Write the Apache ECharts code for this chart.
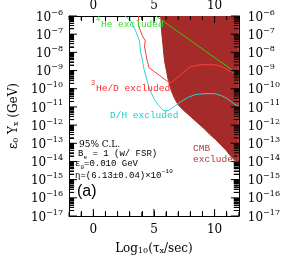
<!DOCTYPE html>
<html><head><meta charset="utf-8">
<script src="https://cdn.jsdelivr.net/npm/echarts@6/dist/echarts.min.js"></script>
<style>html,body{margin:0;padding:0;background:#fff}#c{width:283px;height:278px}</style>
</head><body><div id="c"></div>
<script>
// x: log10(tau/sec), y: log10(eps0*Yx / GeV)
const cmbLogTau = [5.56,5.63,5.79,5.87,6.03,6.19,6.43,6.67,6.98,7.46,8.02,8.57,9.13,9.60,10.08,10.56,10.95,11.27,11.59,12.0];
const cmbLogY   = [-6,-6.82,-7.92,-8.46,-9.01,-9.56,-10.11,-10.49,-10.87,-11.2,-11.53,-11.86,-12.19,-12.51,-12.79,-13.12,-13.39,-13.66,-13.88,-14.05];
const he4LogTau = [5.16,12.0];
const he4LogY   = [-6,-9.23];
const he3LogTau = [3.73,3.73,4.05,4.29,4.21,4.29,4.44,4.60,5.48,6.03,6.19,6.43,6.83,7.38,8.02,8.81,10.0,10.63,11.19,12.0];
const he3LogY   = [-6,-6.55,-7.09,-7.37,-7.64,-7.92,-8.46,-8.85,-9.28,-9.56,-9.67,-9.67,-9.45,-9.12,-8.79,-8.68,-8.68,-8.79,-9.01,-9.28];
const dhLogTau  = [2.62,3.10,3.49,3.81,3.89,4.05,4.21,4.44,4.68,5.08,5.40,5.79,6.19,6.67,7.22,7.78,8.41,9.21,10.0,10.56,11.03,11.59,12.0];
const dhLogY    = [-6,-6.27,-6.82,-7.37,-7.92,-8.46,-9.01,-9.56,-10.1,-10.65,-10.93,-11.2,-11.2,-10.98,-10.71,-10.49,-10.32,-10.27,-10.27,-10.38,-10.54,-10.82,-10.98];
const xTickLabels = [0,5,10];
const xIntTicks = [-2,-1,1,2,3,4,6,7,8,9,11,12];
const yDecades = [-17,-16,-15,-14,-13,-12,-11,-10,-9,-8,-7,-6];

const zip = (a,b)=>a.map((v,i)=>[v,b[i]]);
const minorY = [];
for (let n=-17;n<-6;n++) for (let k=2;k<=9;k++) minorY.push(n+Math.log10(k));
const allY = yDecades.concat(minorY);

const SERIF = '"DejaVu Serif", serif';
const MONO = '"Liberation Mono", monospace';
const tickRich = {
  b:{fontFamily:SERIF,fontSize:12,lineHeight:15,verticalAlign:'bottom',color:'#000'},
  s:{fontFamily:SERIF,fontSize:8,lineHeight:9,verticalAlign:'top',color:'#000'}
};
const yLab = v => '{b|10}{s|\u2212' + Math.abs(v) + '}';

function txt(x,y,text,color,size,family,rich){
  const st = {text:text,fill:color,fontSize:size,fontFamily:family};
  if (rich) st.rich = rich;
  return {type:'text',left:x,top:y,z:100,style:st};
}
const subR = {m:{fontSize:9,fontFamily:MONO,verticalAlign:'top',lineHeight:11},d:{fontSize:6,fontFamily:MONO,verticalAlign:'bottom',lineHeight:7}};
const nameRich = {sub:{fontFamily:SERIF,fontSize:8,verticalAlign:'bottom',lineHeight:10}};

// tick marks drawn as thin rect symbols placed by the axis scales
function tickMarks(data, size, offset){
  return {type:'scatter',data:data,symbol:'rect',symbolSize:size,symbolOffset:offset,
    itemStyle:{color:'#000',opacity:1},silent:true,clip:false,z:8,animation:false,
    emphasis:{disabled:true}};
}

const chart = echarts.init(document.getElementById('c'));
chart.setOption({
  animation:false,
  grid:{left:69,right:38,top:15,bottom:62},
  xAxis:[
    {type:'value',min:-2,max:12,interval:1,position:'bottom',
      name:'Log{sub|10}(\u03c4{sub|x}/sec)',nameLocation:'middle',nameGap:27,
      nameTextStyle:{fontFamily:SERIF,fontSize:12,color:'#000',rich:nameRich},
      axisLine:{show:true,onZero:false,lineStyle:{color:'#000'}},
      axisTick:{show:true,inside:true,length:5},
      axisLabel:{customValues:xTickLabels,fontFamily:SERIF,fontSize:12,color:'#000',margin:8},
      splitLine:{show:false}},
    {type:'value',min:-2,max:12,interval:1,position:'top',
      axisLine:{show:true,onZero:false,lineStyle:{color:'#000'}},
      axisTick:{show:true,inside:true,length:5},
      axisLabel:{customValues:xTickLabels,fontFamily:SERIF,fontSize:12,color:'#000',margin:4},
      splitLine:{show:false}}
  ],
  yAxis:[
    {type:'value',min:-17,max:-6,interval:1,position:'left',
      name:'\u03b5{sub|0} Y{sub|x} (GeV)',nameLocation:'middle',nameGap:42,
      nameTextStyle:{fontFamily:SERIF,fontSize:12,color:'#000',rich:nameRich},
      axisLine:{show:true,onZero:false,lineStyle:{color:'#000'}},
      axisTick:{show:true,inside:true,length:5,customValues:allY},
      axisLabel:{formatter:yLab,rich:tickRich,margin:6},
      splitLine:{show:false}},
    {type:'value',min:-17,max:-6,interval:1,position:'right',
      axisLine:{show:true,onZero:false,lineStyle:{color:'#000'}},
      axisTick:{show:true,inside:true,length:5,customValues:allY},
      axisLabel:{formatter:yLab,rich:tickRich,margin:9},
      splitLine:{show:false}}
  ],
  series:[
    {name:'CMB',type:'line',data:zip(cmbLogTau,cmbLogY),symbol:'none',
      lineStyle:{color:'#a52a2a',width:1},areaStyle:{color:'#a52a2a',opacity:1,origin:'end'},z:1},
    {name:'3He/D',type:'line',data:zip(he3LogTau,he3LogY),symbol:'none',lineStyle:{color:'#ff3b3b',width:1},z:3},
    {name:'D/H',type:'line',data:zip(dhLogTau,dhLogY),symbol:'none',lineStyle:{color:'#2ed3d3',width:1},z:3},
    {name:'4He',type:'line',data:zip(he4LogTau,he4LogY),symbol:'none',lineStyle:{color:'#33cc11',width:1},z:4},
    tickMarks(minorY.map(v=>[-2,v]),[5,1],[2.5,0]),
    tickMarks(yDecades.map(v=>[-2,v]),[8,1],[4,0]),
    tickMarks(minorY.map(v=>[12,v]),[5,1],[-2.5,0]),
    tickMarks(yDecades.map(v=>[12,v]),[8,1],[-4,0]),
    tickMarks(xIntTicks.map(v=>[v,-17]),[1,4],[0,-2]),
    tickMarks(xTickLabels.map(v=>[v,-17]),[1,7],[0,-3.5]),
    tickMarks(xIntTicks.map(v=>[v,-6]),[1,4],[0,2]),
    tickMarks(xTickLabels.map(v=>[v,-6]),[1,7],[0,3.5])
  ],
  graphic:[
    txt(96,16,'4','#33dd33',7,MONO),
    txt(101,19,'He excluded','#33dd33',9.5,MONO),
    txt(91,80,'3','#ff2a2a',7,MONO),
    txt(96,83,'He/D excluded','#ff2a2a',9.5,MONO),
    txt(110,110,'D/H excluded','#22cccc',9.5,MONO),
    {type:'text',left:193,top:143,z:100,style:{text:'CMB\nexcluded',fill:'#b03a3a',fontSize:9.5,fontFamily:MONO,lineHeight:11}},
    txt(79,140,'95% C.L.','#000',9,SERIF),
    txt(78,149,'{m|B}{d|e}{m| = 1 (w/ FSR)}','#000',9,MONO,subR),
    txt(75,159,'{m|\u03b5}{d|0}{m|=0.010 GeV}','#000',9,MONO,subR),
    txt(75,171,'\u03b7=(6.13\u00b10.04)\u00d710','#000',9,MONO),
    txt(162,168,'\u221210','#000',6,MONO),
    txt(77,184,'(a)','#000',16,'"Liberation Sans", sans-serif')
  ]
});
</script></body></html>
